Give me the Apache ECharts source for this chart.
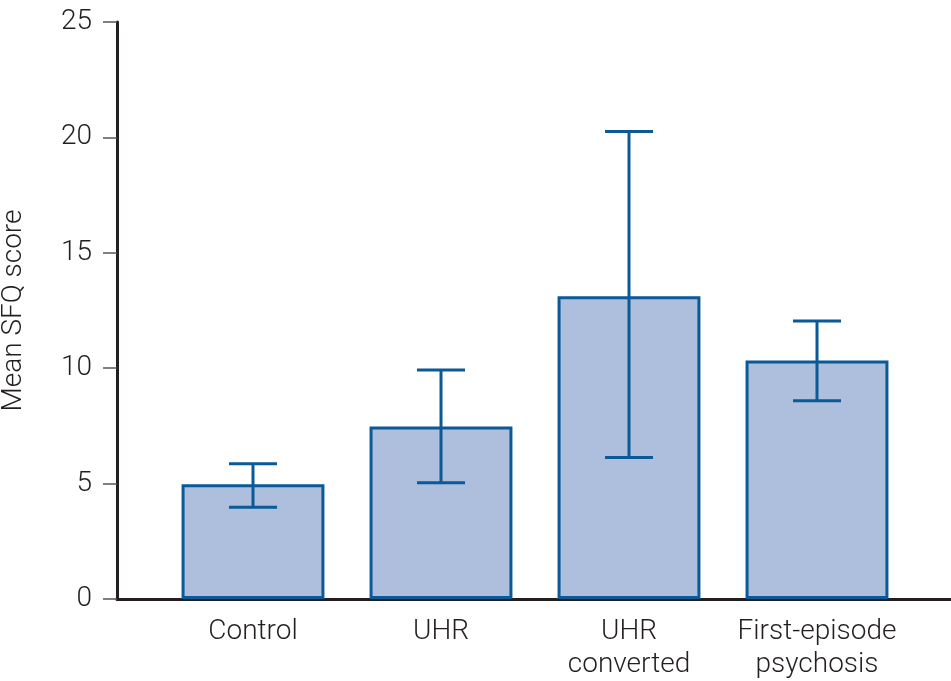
<!DOCTYPE html>
<html><head><meta charset="utf-8">
<script src="https://cdn.jsdelivr.net/npm/echarts@6/dist/echarts.min.js"></script>
<style>html,body{margin:0;padding:0;background:#fff}#c{width:951px;height:681px}</style>
</head><body><div id="c"></div>
<script>
var categories = ['Control', 'UHR', 'UHR\nconverted', 'First-episode\npsychosis'];
var means = [4.97, 7.47, 13.12, 10.33];
var errLow = [3.98, 5.04, 6.13, 8.59];
var errHigh = [5.86, 9.92, 20.26, 12.05];
var yTicks = [0, 5, 10, 15, 20, 25];
var yName = 'Mean SFQ score';

var blue = '#0b5996';
var fill = '#adbfdc';
var ink = '#231f20';
var font = 'Roboto';

var chart = echarts.init(document.getElementById('c'));
chart.setOption({
  animation: false,
  backgroundColor: '#fff',
  grid: [
    {left: 117, right: 0, top: 22, bottom: 82, outerBoundsMode: 'none', containLabel: false},
    {left: 159, width: 752, top: 22, bottom: 82, outerBoundsMode: 'none', containLabel: false}
  ],
  xAxis: [
    {gridIndex: 0, type: 'value', min: 0, max: 1, splitLine: {show: false},
     axisLabel: {show: false}, axisTick: {show: false},
     axisLine: {show: true, lineStyle: {color: ink, width: 3}}},
    {gridIndex: 1, type: 'category', data: categories,
     axisLine: {show: false}, axisTick: {show: false},
     axisLabel: {color: ink, fontFamily: font, fontWeight: 300, fontSize: 28, lineHeight: 33, margin: 16, interval: 0}}
  ],
  yAxis: [
    {gridIndex: 0, type: 'value', min: yTicks[0], max: yTicks[yTicks.length - 1], interval: 5,
     name: yName, nameLocation: 'middle', nameGap: 89, nameRotate: 90,
     nameTextStyle: {color: ink, fontFamily: font, fontWeight: 300, fontSize: 28},
     splitLine: {show: false},
     axisLine: {show: true, lineStyle: {color: ink, width: 3}},
     axisTick: {show: true, inside: false, length: 14, lineStyle: {color: '#555', width: 1.5}},
     axisLabel: {color: ink, fontFamily: font, fontWeight: 300, fontSize: 28, margin: 25}},
    {gridIndex: 1, type: 'value', min: 0, max: 25, show: false}
  ],
  series: [
    {type: 'bar', xAxisIndex: 1, yAxisIndex: 1, data: means, barWidth: '76%',
     itemStyle: {color: fill, borderColor: blue, borderWidth: 3}, z: 2},
    {type: 'custom', xAxisIndex: 1, yAxisIndex: 1, z: 5,
     data: categories.map(function (c, i) { return [i, errLow[i], errHigh[i]]; }),
     renderItem: function (params, api) {
       var lo = api.coord([api.value(0), api.value(1)]);
       var hi = api.coord([api.value(0), api.value(2)]);
       var hw = 24;
       var st = {stroke: blue, lineWidth: 3};
       return {type: 'group', children: [
         {type: 'line', shape: {x1: hi[0], y1: hi[1], x2: lo[0], y2: lo[1]}, style: st},
         {type: 'line', shape: {x1: hi[0] - hw, y1: hi[1], x2: hi[0] + hw, y2: hi[1]}, style: st},
         {type: 'line', shape: {x1: lo[0] - hw, y1: lo[1], x2: lo[0] + hw, y2: lo[1]}, style: st}
       ]};
     }}
  ]
});
</script></body></html>
